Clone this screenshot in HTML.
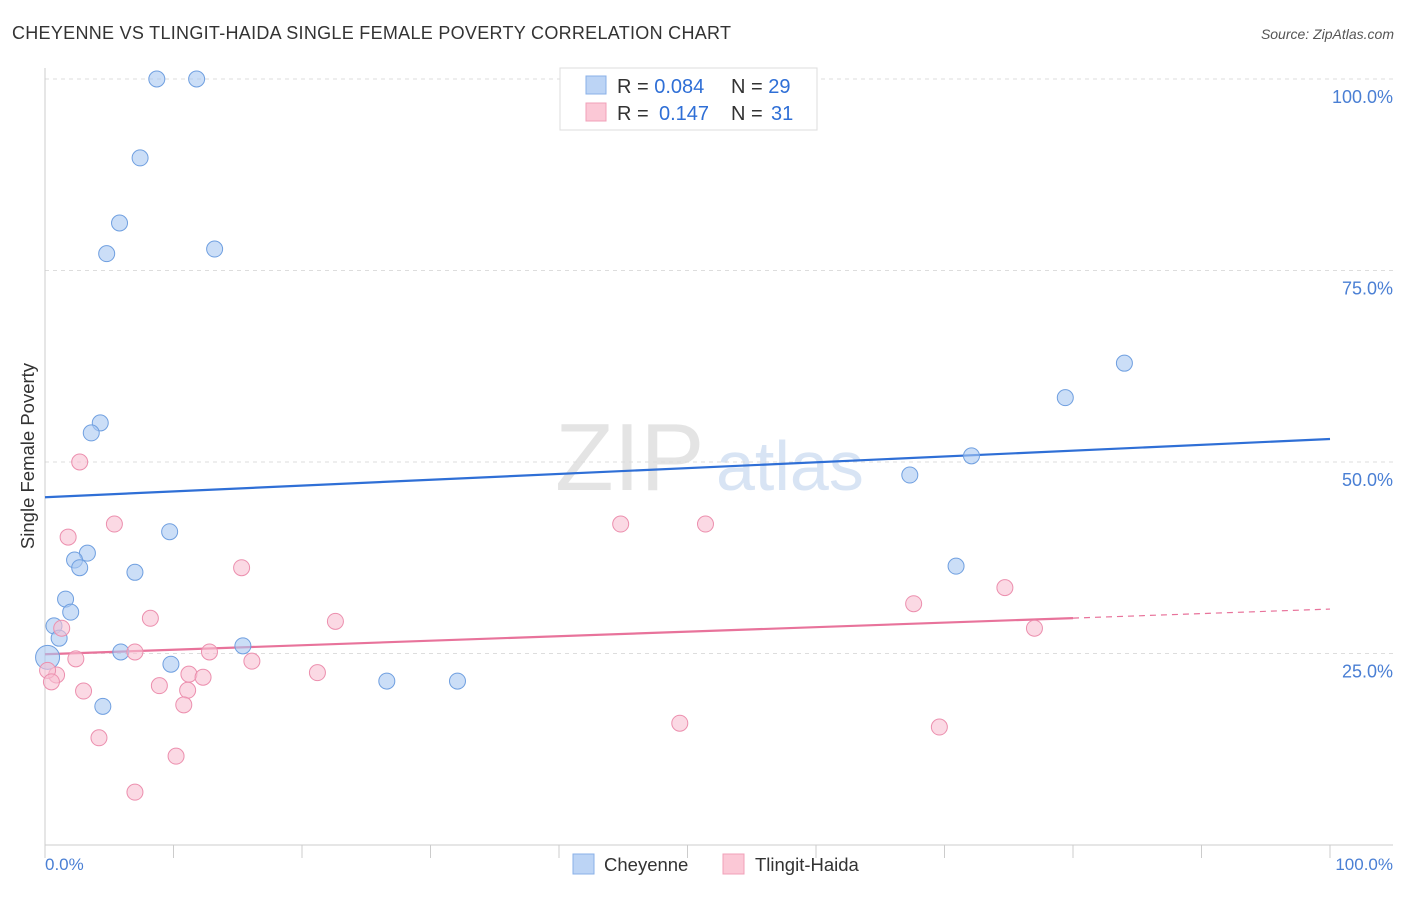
<!DOCTYPE html>
<html><head><meta charset="utf-8"><style>
body{margin:0;background:#fff;font-family:"Liberation Sans",sans-serif;}
svg text{font-family:"Liberation Sans",sans-serif;}
</style></head><body>
<svg id="chart" width="1406" height="892">
<text x="12" y="39" font-size="18" fill="#333" textLength="719">CHEYENNE VS TLINGIT-HAIDA SINGLE FEMALE POVERTY CORRELATION CHART</text>
<text x="1394" y="39" font-size="14" fill="#555" font-style="italic" text-anchor="end">Source: ZipAtlas.com</text>
<text x="555" y="490" font-size="96" fill="#e4e4e4" font-family="Liberation Serif">ZIP</text>
<text x="716" y="490" font-size="70" fill="#d8e4f4">atlas</text>
<g id="grid"></g><g id="axes"></g><g id="lines"></g><g id="pts"></g>
<text transform="translate(34,456) rotate(-90)" font-size="18.5" fill="#333" text-anchor="middle">Single Female Poverty</text>
<text x="45" y="870" font-size="17" fill="#4a7fd4">0.0%</text>
<text x="1393" y="870" font-size="17" fill="#4a7fd4" text-anchor="end">100.0%</text>
<g>
<rect x="560" y="68" width="257" height="62" fill="#fff" stroke="#ddd"/>
<rect x="586" y="76" width="20" height="18" fill="#bcd4f5" stroke="#8ab0e8"/>
<rect x="586" y="103" width="20" height="18" fill="#fbc8d6" stroke="#f0a0b8"/>
<text x="617" y="93" font-size="20" fill="#333">R = <tspan fill="#2f6fd6">0.084</tspan><tspan x="731">N = </tspan><tspan fill="#2f6fd6">29</tspan></text>
<text x="617" y="120" font-size="20" fill="#333">R = <tspan fill="#2f6fd6" x="659">0.147</tspan><tspan x="731">N = </tspan><tspan fill="#2f6fd6" x="771">31</tspan></text>
</g>
<g>
<rect x="573" y="854" width="21" height="20" fill="#bcd4f5" stroke="#8ab0e8"/>
<text x="604" y="871" font-size="18.5" fill="#333">Cheyenne</text>
<rect x="723" y="854" width="21" height="20" fill="#fbc8d6" stroke="#f0a0b8"/>
<text x="755" y="871" font-size="18.5" fill="#333">Tlingit-Haida</text>
</g>
</svg>
<script>
const yTicks=[25,50,75,100];
const yTickLabels=["25.0%","50.0%","75.0%","100.0%"];
const blueX=[8.7,11.8,7.4,5.8,4.8,13.2,84.0,79.4,4.3,3.6,72.1,67.3,9.7,3.3,2.3,2.7,7.0,70.9,1.6,2.0,0.7,1.1,0.2,5.9,15.4,9.8,26.6,32.1,4.5];
const blueY=[100,100,89.7,81.2,77.2,77.8,62.9,58.4,55.1,53.8,50.8,48.3,40.9,38.1,37.2,36.2,35.6,36.4,32.1,30.4,28.6,27.0,24.5,25.2,26.0,23.6,21.4,21.4,18.1];
const pinkX=[2.7,5.4,44.8,51.4,1.8,15.3,74.7,67.6,8.2,22.6,1.3,77.0,7.0,12.8,2.4,16.1,0.9,21.2,11.2,12.3,0.2,0.5,3.0,8.9,11.1,10.8,49.4,69.6,4.2,10.2,7.0];
const pinkY=[50.0,41.9,41.9,41.9,40.2,36.2,33.6,31.5,29.6,29.2,28.3,28.3,25.2,25.2,24.3,24.0,22.2,22.5,22.3,21.9,22.8,21.3,20.1,20.8,20.2,18.3,15.9,15.4,14.0,11.6,6.9];
const blueTrend=[45.4,53.0];
const pinkTrend=[24.9,30.8];
const pinkSolidEnd=80;
const NS="http://www.w3.org/2000/svg";
const X=v=>45+v*12.85, Y=v=>845-v*7.66;
function mk(tag,attrs,parent){const e=document.createElementNS(NS,tag);for(const k in attrs)e.setAttribute(k,attrs[k]);document.getElementById(parent).appendChild(e);return e;}
yTicks.forEach((t,i)=>{
 const l=mk('line',{x1:45,x2:1393,y1:Y(t),y2:Y(t),stroke:'#ddd','stroke-dasharray':'4,4'},'grid');
 
 
 const tx=mk('text',{x:1393,y:Y(t)+24,'font-size':18,fill:'#4a7fd4','text-anchor':'end'},'grid');
 tx.textContent=yTickLabels[i];
 
 
});
const ax=mk('line',{x1:45,x2:1393,y1:845,y2:845,stroke:'#ccc'},'axes');


const ay=mk('line',{x1:45,x2:45,y1:68,y2:845,stroke:'#ccc'},'axes');


for(let k=0;k<=10;k++){const t=mk('line',{x1:X(k*10),x2:X(k*10),y1:845,y2:858,stroke:'#ccc'},'axes');
 
 }
function pts(xs,ys,fill,stroke,name){xs.forEach((x,i)=>{
 const c=mk('circle',{cx:X(x),cy:Y(ys[i]),r:(name=='cheyenne-point'&&i==22)?12:8,fill:fill,stroke:stroke,'stroke-width':1,'fill-opacity':0.6},'pts');
 
 });}
pts(blueX,blueY,'#a9c8f2','#6f9fe0','cheyenne-point');
pts(pinkX,pinkY,'#f8c0d2','#ec8fae','tlingit-haida-point');
const bl=mk('line',{x1:X(0),y1:Y(blueTrend[0]),x2:X(100),y2:Y(blueTrend[1]),stroke:'#2f6fd6','stroke-width':2.2},'lines');


const pm=pinkTrend[0]+(pinkTrend[1]-pinkTrend[0])*pinkSolidEnd/100;
const pl=mk('line',{x1:X(0),y1:Y(pinkTrend[0]),x2:X(pinkSolidEnd),y2:Y(pm),stroke:'#e8739b','stroke-width':2.2},'lines');


const pd=mk('line',{x1:X(pinkSolidEnd),y1:Y(pm),x2:X(100),y2:Y(pinkTrend[1]),stroke:'#e8739b','stroke-width':1.2,'stroke-dasharray':'6,5'},'lines');


</script>
</body></html>
